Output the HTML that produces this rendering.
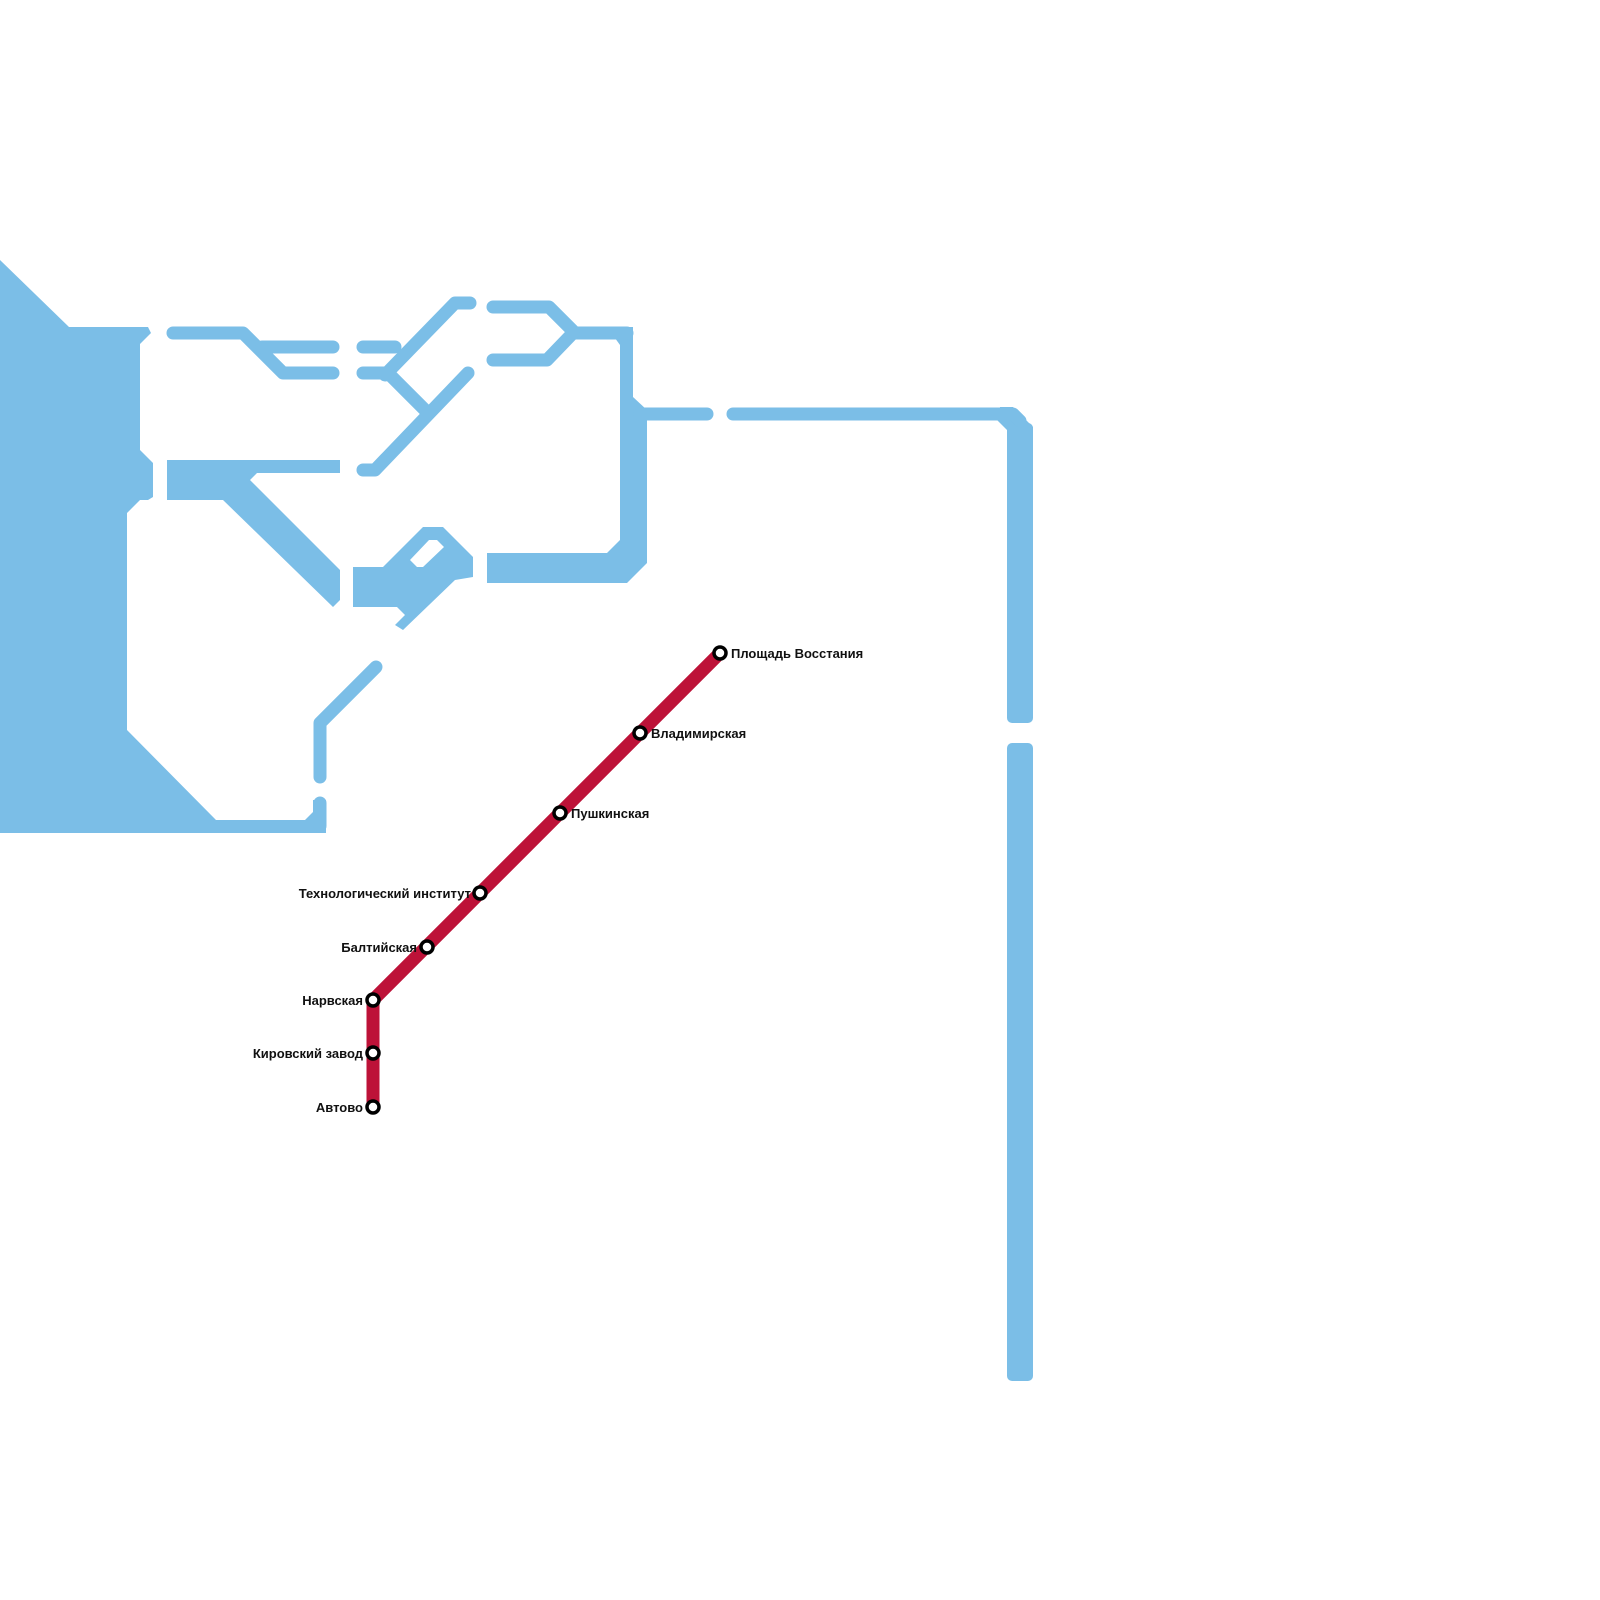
<!DOCTYPE html>
<html><head><meta charset="utf-8"><style>
html,body{margin:0;padding:0;background:#fff;}
svg{display:block;}
text{font-family:"Liberation Sans",Arial,sans-serif;font-weight:bold;font-size:13px;fill:#111;}
</style></head><body>
<svg width="1600" height="1600" viewBox="0 0 1600 1600" xmlns="http://www.w3.org/2000/svg">
<g fill="#7bbee7" stroke="none">
<polygon points="0,260 69,327 148,327 151,333 140,344 140,450 153,463 153,497 148,500 140,500 127,513 127,730 216,820 305,820 313,812 313,800 326,800 326,833 0,833"/>
<polygon points="167,460 340,460 340,473 257,473 250,480 340,570 340,600 333,607 223,500 167,500"/>
<path fill-rule="evenodd" d="M353,567 L383,567 L423,527 L443,527 L473,557 L473,577 L455,580 L403,630 L395,625 L405,615 L397,607 L353,607 Z M410,560 L429,540 L437,540 L444,547 L423,567 L417,567 Z"/>
<polygon points="607,327 633,327 633,397 647,410 647,563 627,583 487,583 487,553 607,553 620,540 620,345"/>
<rect x="1007" y="423" width="26" height="300" rx="5"/>
<rect x="1007" y="743" width="26" height="638" rx="5"/>
<polygon points="1013,407 1033,427 1033,440 1007,440 1007,430 997,420 1000,407"/>
</g>
<g fill="none" stroke="#7bbee7" stroke-width="13" stroke-linecap="round" stroke-linejoin="round">
<polyline points="173,333 243,333 283,373 333,373"/>
<polyline points="262,347 333,347"/>
<polyline points="363,347 395,347"/>
<polyline points="385,375 455,303 470,303"/>
<polyline points="363,373 388,373 428,413"/>
<polyline points="468,373 375,470 363,470"/>
<polyline points="493,307 549,307 575,333 627,333"/>
<polyline points="493,360 547,360 573,333"/>
<polyline points="640,414 707,414"/>
<polyline points="733,414 1013,414 1020,421"/>
<polyline points="376,667 320,723 320,777"/>
<polyline points="320,803 320,826"/>
</g>
<g fill="none" stroke="#bd1238" stroke-width="13" stroke-linejoin="round">
<polyline points="373,1107 373,1000 720,653"/>
</g>
<g fill="#fff" stroke="#000" stroke-width="3.5">
<circle cx="720" cy="653" r="6"/>
<circle cx="640" cy="733" r="6"/>
<circle cx="560" cy="813" r="6"/>
<circle cx="480" cy="893" r="6"/>
<circle cx="427" cy="947" r="6"/>
<circle cx="373" cy="1000" r="6"/>
<circle cx="373" cy="1053" r="6"/>
<circle cx="373" cy="1107" r="6"/>
</g>
<text x="731" y="658">Площадь Восстания</text>
<text x="651" y="738">Владимирская</text>
<text x="571" y="818">Пушкинская</text>
<text x="471" y="898" text-anchor="end">Технологический институт</text>
<text x="417" y="952" text-anchor="end">Балтийская</text>
<text x="363" y="1005" text-anchor="end">Нарвская</text>
<text x="363" y="1058" text-anchor="end">Кировский завод</text>
<text x="363" y="1112" text-anchor="end">Автово</text>
</svg>
</body></html>
